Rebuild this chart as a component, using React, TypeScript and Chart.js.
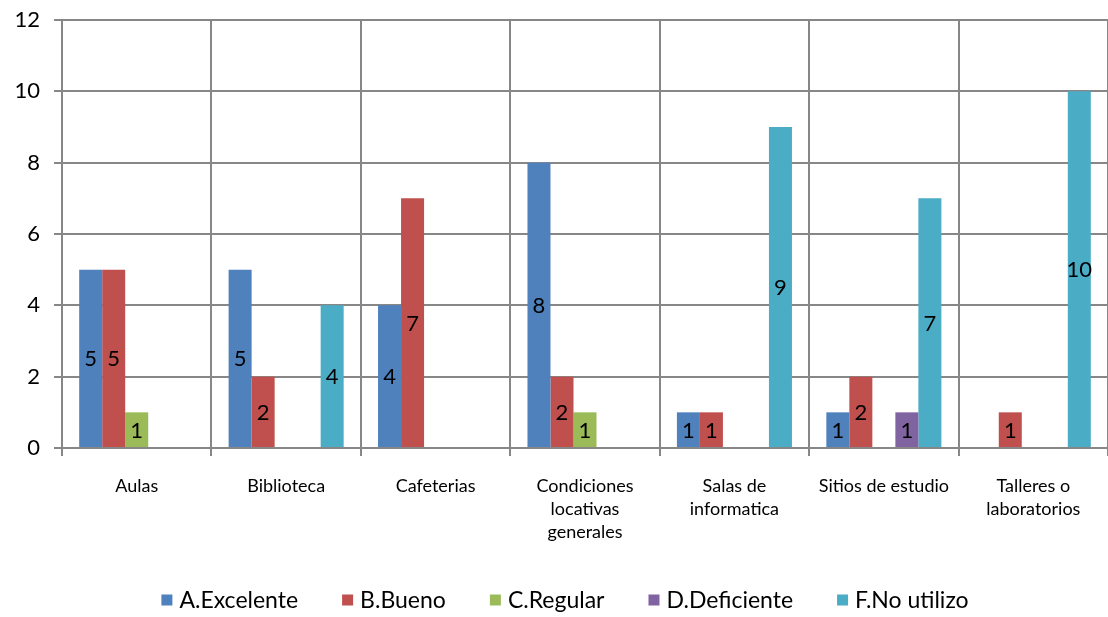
import React, { useEffect, useRef } from "react";
import { Chart, registerables } from "chart.js";

Chart.register(...registerables);

const categories: (string | string[])[] = [
  "Aulas",
  "Biblioteca",
  "Cafeterias",
  ["Condiciones", "locativas", "generales"],
  ["Salas de", "informatica"],
  "Sitios de estudio",
  ["Talleres o", "laboratorios"],
];

const excelente = [5, 5, 4, 8, 1, 1, null];
const bueno = [5, 2, 7, 2, 1, 2, 1];
const regular = [1, null, null, 1, null, null, null];
const deficiente = [null, null, null, null, null, 1, null];
const noUtilizo = [null, 4, null, null, 9, 7, 10];

const seriesNames = ["A.Excelente", "B.Bueno", "C.Regular", "D.Deficiente", "F.No utilizo"];
const seriesColors = ["#4F81BD", "#C0504D", "#9BBB59", "#8064A2", "#4BACC6"];
const yTicks = [0, 2, 4, 6, 8, 10, 12];

const FONT = "Lato, 'Liberation Sans', sans-serif";

const labelPlugin = {
  id: "barLabels",
  afterDatasetsDraw(chart: any) {
    const ctx = chart.ctx;
    ctx.save();
    ctx.font = `22px ${FONT}`;
    ctx.fillStyle = "#000";
    ctx.textAlign = "center";
    ctx.textBaseline = "middle";
    chart.data.datasets.forEach((ds: any, i: number) => {
      const meta = chart.getDatasetMeta(i);
      meta.data.forEach((el: any, j: number) => {
        const v = ds.data[j];
        if (v === null || v === undefined) return;
        const p = el.getProps(["x", "y", "base"], true);
        ctx.fillText(String(v), p.x, (p.y + p.base) / 2 + 1);
      });
    });
    ctx.restore();
  },
};

const legendPlugin = {
  id: "customLegend",
  afterDraw(chart: any) {
    const ctx = chart.ctx;
    ctx.save();
    ctx.font = `23px ${FONT}`;
    ctx.textBaseline = "middle";
    ctx.textAlign = "left";
    const box = 11;
    const gapText = 7;
    const gapItem = 44;
    const widths = chart.data.datasets.map((d: any) => ctx.measureText(d.label).width);
    const total =
      widths.reduce((a: number, b: number) => a + b, 0) +
      widths.length * (box + gapText) +
      (widths.length - 1) * gapItem;
    let x = 565 - total / 2;
    const y = 600;
    chart.data.datasets.forEach((d: any, i: number) => {
      ctx.fillStyle = d.backgroundColor;
      ctx.fillRect(x, y - box / 2, box, box);
      x += box + gapText;
      ctx.fillStyle = "#000";
      ctx.fillText(d.label, x, y + 1);
      x += widths[i] + gapItem;
    });
    ctx.restore();
  },
};

export default function App() {
  const ref = useRef<HTMLCanvasElement>(null);
  useEffect(() => {
    document.body.style.margin = "0";
    const all = [excelente, bueno, regular, deficiente, noUtilizo];
    const chart = new Chart(ref.current!, {
      type: "bar",
      data: {
        labels: categories,
        datasets: all.map((d, i) => ({
          label: seriesNames[i],
          data: d,
          backgroundColor: seriesColors[i],
          borderWidth: 0,
          categoryPercentage: 0.77,
          barPercentage: 1,
        })),
      },
      options: {
        animation: false,
        responsive: false,
        maintainAspectRatio: false,
        layout: { padding: { top: 20, right: 0, left: 0, bottom: 0 } },
        plugins: {
          tooltip: { enabled: false },
          legend: { display: false },
        },
        scales: {
          x: {
            grid: { color: "#878787", lineWidth: 2, tickLength: 8, offset: true },
            border: { color: "#878787", width: 2 },
            ticks: {
              color: "#000",
              font: { family: FONT, size: 18, lineHeight: 1.28 },
              maxRotation: 0,
              autoSkip: false,
              padding: 19,
            },
            afterFit: (s: any) => {
              s.height = 169;
              s.paddingLeft = 0;
              s.paddingRight = 0;
            },
          },
          y: {
            min: 0,
            max: 12,
            afterBuildTicks: (s: any) => {
              s.ticks = yTicks.map((v) => ({ value: v }));
            },
            grid: { color: "#878787", lineWidth: 2, tickLength: 8 },
            border: { color: "#878787", width: 2 },
            ticks: {
              color: "#000",
              font: { family: FONT, size: 22 },
              padding: 14,
            },
            afterFit: (s: any) => {
              s.width = 62;
              s.paddingTop = 0;
              s.paddingBottom = 0;
            },
          },
        },
      },
      plugins: [labelPlugin, legendPlugin],
    } as any);
    return () => chart.destroy();
  }, []);
  return (
    <div style={{ position: "absolute", left: 0, top: 0, width: 1108, height: 617 }}>
      <canvas ref={ref} width={1108} height={617} style={{ display: "block" }} />
    </div>
  );
}
